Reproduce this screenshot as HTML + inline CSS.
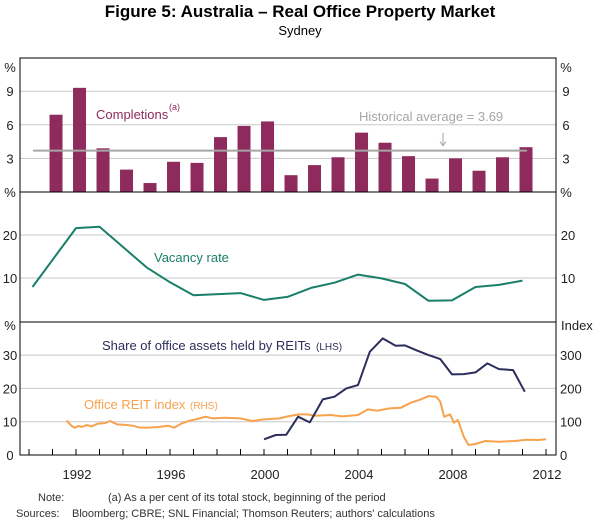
<!DOCTYPE html>
<html><head><meta charset="utf-8"><style>
body{margin:0;background:#fff;width:600px;height:525px;overflow:hidden;font-family:"Liberation Sans",sans-serif}
svg text{font-family:"Liberation Sans",sans-serif}
</style></head><body>
<svg id="chart" width="600" height="525">
<text x="300" y="17" text-anchor="middle" font-size="17" font-weight="bold">Figure 5: Australia – Real Office Property Market</text>
<text x="300" y="35" text-anchor="middle" font-size="13">Sydney</text>
<g id="grid"></g><g id="marks"></g><g id="axes"></g>
<text x="38" y="501" font-size="11" fill="#333">Note:</text>
<text x="108" y="501" font-size="11" fill="#333">(a) As a per cent of its total stock, beginning of the period</text>
<text x="16" y="517" font-size="11" fill="#333">Sources:</text>
<text x="72" y="517" font-size="11" fill="#333">Bloomberg; CBRE; SNL Financial; Thomson Reuters; authors' calculations</text>
</svg>
<script>
const barYears=[1991,1992,1993,1994,1995,1996,1997,1998,1999,2000,2001,2002,2003,2004,2005,2006,2007,2008,2009,2010,2011];
const completions=[6.9,9.3,3.9,2.0,0.8,2.7,2.6,4.9,5.9,6.3,1.5,2.4,3.1,5.3,4.4,3.2,1.2,3.0,1.9,3.1,4.0];
const histAvg=3.69;
const vacYears=[1990.15,1992,1993,1995,1996,1997,1999,2000,2001,2002,2003,2004,2005,2006,2007,2008,2009,2010,2011];
const vacancy=[7.9,21.6,21.9,12.5,9.0,6.0,6.5,4.9,5.6,7.7,8.9,10.8,9.9,8.6,4.7,4.8,7.9,8.4,9.4];
const shareDates=[2000.0,2000.5,2000.95,2001.45,2001.95,2002.5,2003.0,2003.5,2004.0,2004.5,2005.05,2005.6,2006.0,2006.5,2007.0,2007.5,2008.0,2008.5,2009.0,2009.5,2010.0,2010.6,2011.1];
const shareVals=[4.7,6.0,6.1,11.5,9.8,16.7,17.5,20.0,21.0,31.0,35.0,32.8,32.9,31.4,30.0,28.8,24.2,24.3,24.8,27.5,25.8,25.5,19.0];
const reitDates=[1991.6,1991.8,1991.95,1992.1,1992.25,1992.45,1992.67,1992.92,1993.25,1993.45,1993.75,1994.17,1994.42,1994.67,1995.0,1995.5,1995.92,1996.17,1996.5,1996.83,1997.17,1997.5,1997.83,1998.33,1999.0,1999.5,2000.0,2000.67,2001.0,2001.5,2001.83,2002.17,2002.83,2003.33,2004.0,2004.42,2004.83,2005.33,2005.83,2006.25,2006.67,2007.0,2007.33,2007.5,2007.67,2007.92,2008.08,2008.25,2008.5,2008.7,2009.0,2009.42,2010.0,2010.67,2011.17,2011.67,2012.0];
const reitVals=[104,88,82,87,84,90,86,94,96,102,92,90,88,83,82,84,88,82,95,103,108,115,110,112,110,102,107,110,116,122,122,118,120,116,120,137,133,140,142,157,167,177,175,160,115,122,97,105,55,30,33,42,40,42,46,45,47];
const leftTicks1=[3,6,9], leftTicks2=[10,20], leftTicks3=[0,10,20,30], rightTicks3=[0,100,200,300];
const yearLabels=[1992,1996,2000,2004,2008,2012];

const NS='http://www.w3.org/2000/svg';
const L=20,R=556;
const x=t=>29+(t-1990)*23.5;
const y1=v=>192-v*11.2;
const y2=v=>321-v*4.3;
const y3=v=>455-v*3.33;
const y3r=v=>455-v*0.333;
function mk(tag,attrs,parent,txt){const e=document.createElementNS(NS,tag);for(const k in attrs)e.setAttribute(k,attrs[k]);if(txt!==undefined)e.textContent=txt;document.getElementById(parent).appendChild(e);return e;}

[[leftTicks1,y1],[leftTicks2,y2],[leftTicks3.slice(1),y3]].forEach(([ts,f])=>ts.forEach(v=>{
  const g=mk('line',{x1:L,x2:R,y1:f(v),y2:f(v),stroke:'#c8c8c8','stroke-width':1},'grid');
  
  
}));

barYears.forEach((yr,i)=>{
  const cx=x(yr+0.15);
  const b=mk('rect',{x:cx-6.5,y:y1(completions[i]),width:13,height:192-y1(completions[i]),fill:'#8e2a5c'},'marks');
  
  
});
const avg=mk('line',{x1:33,x2:527,y1:y1(histAvg),y2:y1(histAvg),stroke:'#a6a6a6','stroke-width':2},'marks');


const arr=mk('path',{d:`M443,${y1(histAvg)-18} L443,${y1(histAvg)-5} M440,${y1(histAvg)-9} L443,${y1(histAvg)-5} L446,${y1(histAvg)-9}`,stroke:'#a6a6a6',fill:'none','stroke-width':1},'marks');


const at=mk('text',{x:359,y:121,'font-size':13,fill:'#a6a6a6'},'marks','Historical average = 3.69');


const ct=mk('text',{x:96,y:119,'font-size':13,fill:'#8e2a5c'},'marks','Completions');


const cs=mk('text',{x:169,y:110,'font-size':9,fill:'#8e2a5c'},'marks','(a)');



function line(ds,vs,fx,fy,color,name){
  const d=ds.map((t,i)=>(i?'L':'M')+fx(t).toFixed(1)+','+fy(vs[i]).toFixed(1)).join(' ');
  const p=mk('path',{d:d,stroke:color,fill:'none','stroke-width':2,'stroke-linejoin':'round'},'marks');
  
  
}
line(vacYears,vacancy,x,y2,'#1a7f6a','vacancy-rate-line');
const vt=mk('text',{x:154,y:262,'font-size':13,fill:'#1a7f6a'},'marks','Vacancy rate');


line(reitDates,reitVals,x,y3r,'#f7a24f','office-reit-index-line');
line(shareDates,shareVals,x,y3,'#2b2e5c','reit-share-line');
const st=mk('text',{x:102,y:350,'font-size':13,fill:'#2b2e5c'},'marks','Share of office assets held by REITs');


const st2=mk('text',{x:316,y:350,'font-size':10,fill:'#2b2e5c'},'marks','(LHS)');


const ot=mk('text',{x:84,y:409,'font-size':13,fill:'#f7a24f'},'marks','Office REIT index');


const ot2=mk('text',{x:190,y:409,'font-size':10,fill:'#f7a24f'},'marks','(RHS)');



const fr=mk('rect',{x:L,y:58,width:R-L,height:397,fill:'none',stroke:'#000','stroke-width':1},'axes');


[192,322].forEach(yy=>{
  const dl=mk('line',{x1:L,x2:R,y1:yy,y2:yy,stroke:'#000','stroke-width':1},'axes');
  
  
});
function lab(xx,yy,t,anchor,name){const e=mk('text',{x:xx,y:yy+5,'font-size':13,'text-anchor':anchor,fill:'#222'},'axes',t);
  
  }
leftTicks1.forEach(v=>{lab(10,y1(v),v,'middle','y-tick-top-left');lab(566,y1(v),v,'middle','y-tick-top-right');});
leftTicks2.forEach(v=>{lab(10,y2(v),v,'middle','y-tick-mid-left');lab(568,y2(v),v,'middle','y-tick-mid-right');});
leftTicks3.forEach(v=>lab(10,y3(v),v,'middle','y-tick-bottom-left'));
rightTicks3.forEach(v=>lab(560,y3r(v),v,'start','y-tick-bottom-right'));
lab(10,67,'%','middle','unit-top-left');lab(566,67,'%','middle','unit-top-right');
lab(10,192,'%','middle','unit-mid-left');lab(566,192,'%','middle','unit-mid-right');
lab(10,325,'%','middle','unit-bottom-left');lab(561,325,'Index','start','unit-bottom-right');
for(let yr=1990;yr<=2012;yr++){
  const t=mk('line',{x1:x(yr),x2:x(yr),y1:455,y2:449,stroke:'#000'},'axes');
  
  
}
yearLabels.forEach(yr=>{
  const e=mk('text',{x:x(yr)+1,y:479,'font-size':13,'text-anchor':'middle',fill:'#222'},'axes',yr);
  
  
});
</script>
</body></html>
